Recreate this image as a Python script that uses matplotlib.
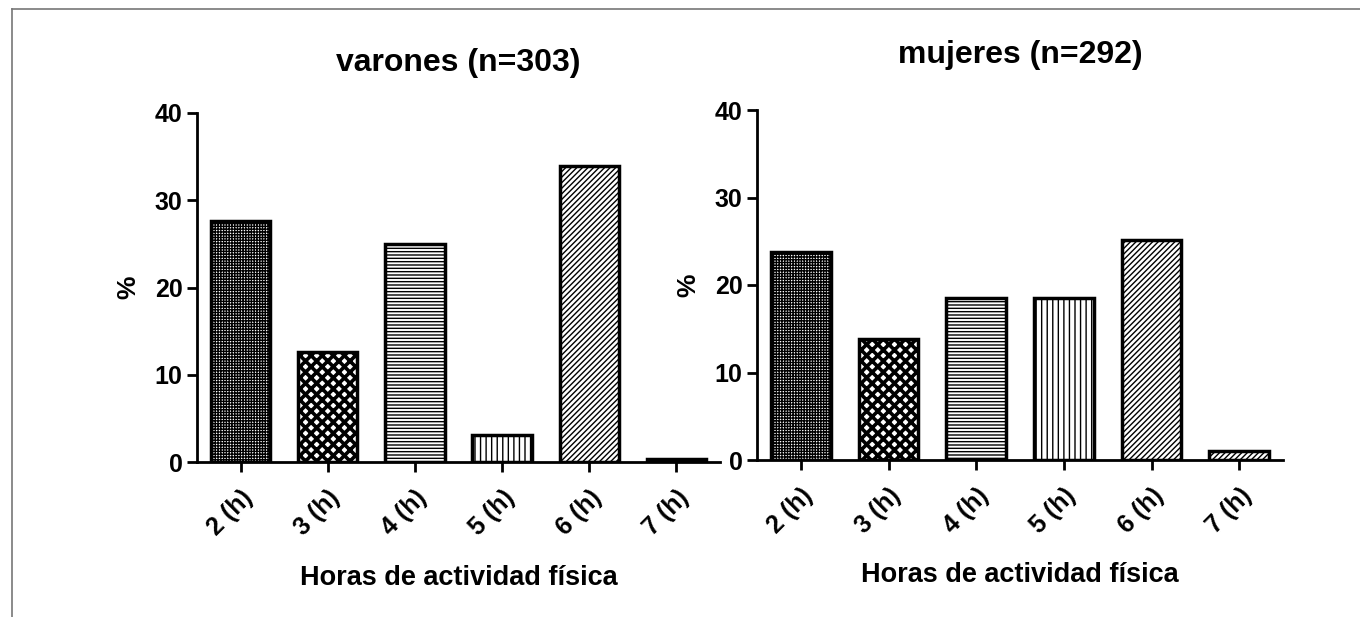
import numpy as np
import matplotlib.pyplot as plt
from matplotlib.lines import Line2D

plt.rcParams['font.family'] = ['Liberation Sans', 'DejaVu Sans']
plt.rcParams['font.weight'] = 'bold'
plt.rcParams['hatch.linewidth'] = 1.0

# --- data
categorias = ['2 (h)', '3 (h)', '4 (h)', '5 (h)', '6 (h)', '7 (h)']
varones = [27.6, 12.6, 25.0, 3.1, 33.9, 0.4]
mujeres = [23.8, 13.8, 18.5, 18.5, 25.1, 1.0]
titulos = ['varones (n=303)', 'mujeres (n=292)']
tramas = ['++++++', 'xxx', '-----', '|||', '//////', '//////']

fig = plt.figure(figsize=(13.6, 6.17), dpi=100)

# frame lines around the picture
fig.add_artist(Line2D([12/1360, 1], [1-9/617, 1-9/617], color='#777777', lw=1.2))
fig.add_artist(Line2D([12/1360, 12/1360], [0, 1-9/617], color='#777777', lw=1.2))

# (x0, x1, ytop, ybot) in pixels, title pad, xlabel pad
axes_pos = [(197, 720, 113, 462, 30, 18), (757, 1283, 110, 460, 34, 17)]

for (x0, x1, ytop, ybot, tpad, lpad), vals, tit in zip(axes_pos, [varones, mujeres], titulos):
    ax = fig.add_axes((x0/1360, 1-ybot/617, (x1-x0)/1360, (ybot-ytop)/617))
    x = np.arange(len(categorias))
    bars = ax.bar(x, vals, width=0.68, color='white', edgecolor='black', linewidth=2.5)
    for b, h in zip(bars, tramas):
        b.set_hatch(h)
    if hasattr(bars[1], 'set_hatch_linewidth'):
        bars[1].set_hatch_linewidth(2.6)

    ax.set_xlim(-0.5, 5.5)
    ax.set_ylim(0, 40)
    ax.set_yticks([0, 10, 20, 30, 40])
    ax.set_xticks(x)
    ax.set_xticklabels(categorias, rotation=45, ha='right', rotation_mode='anchor')
    ax.tick_params(axis='both', direction='out', length=7, width=2, labelsize=18)
    ax.tick_params(axis='x', pad=10)
    ax.spines['top'].set_visible(False)
    ax.spines['right'].set_visible(False)
    for s in ['left', 'bottom']:
        ax.spines[s].set_linewidth(2)

    ax.set_title(tit, fontsize=23, fontweight='bold', pad=tpad)
    ax.set_ylabel('%', fontsize=19, fontweight='bold', labelpad=10)
    ax.set_xlabel('Horas de actividad física', fontsize=19.5, fontweight='bold', labelpad=lpad)

fig.savefig('out.png', dpi=100)
